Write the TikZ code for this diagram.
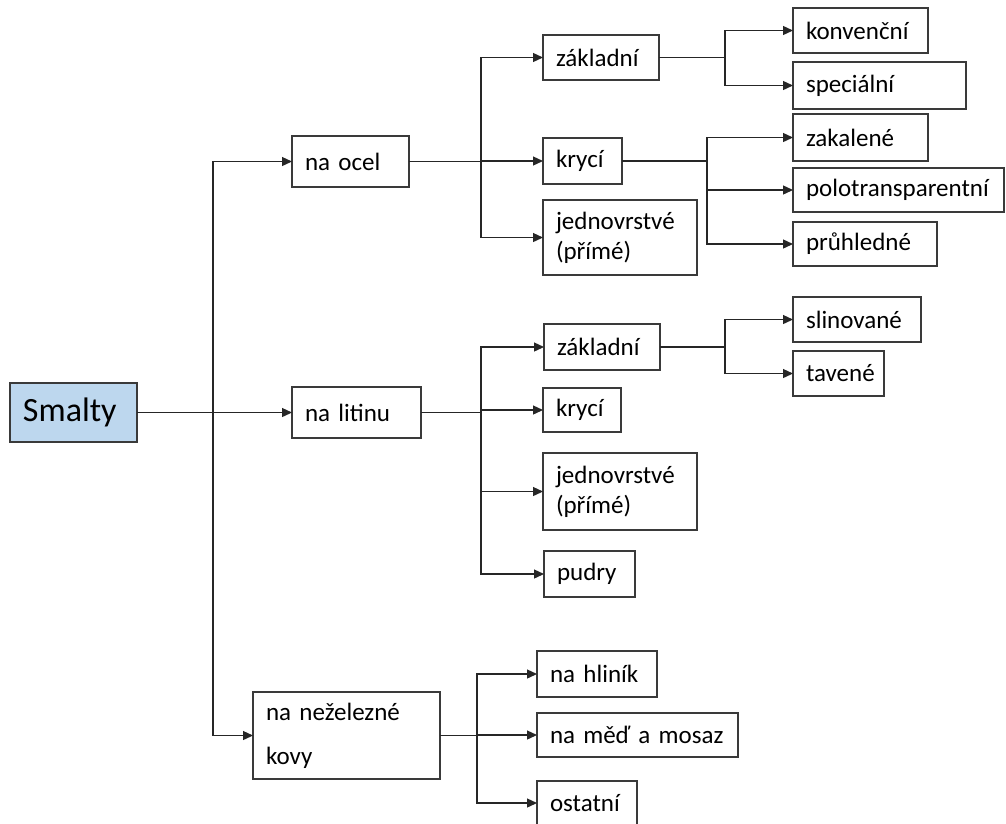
\documentclass[tikz,border=0pt]{standalone}
\usepackage{fontspec}
\setmainfont{Carlito}
\usetikzlibrary{arrows.meta}
\hyphenpenalty=10000
\exhyphenpenalty=10000
\definecolor{smaltyblue}{HTML}{BDD7EE}
\definecolor{boxedge}{HTML}{3A3A3A}
\definecolor{lineclr}{HTML}{262626}
\tikzset{
  box/.style={draw=boxedge, line width=1.3pt, inner xsep=13pt, inner ysep=0pt, outer sep=0pt,
    align=left, font=\fontsize{25}{30}\selectfont},
  conn/.style={line width=1.3pt, draw=lineclr, -{Triangle[length=10pt,width=9pt]}},
}
% #1 extra style, #2 name, #3 x1, #4 y1, #5 x2, #6 y2, #7 text
\newcommand{\mybox}[7]{%
  \pgfmathsetmacro\mbW{#5-#3}%
  \pgfmathsetmacro\mbH{#6-#4}%
  \pgfmathsetmacro\mbX{(#3+#5)/2}%
  \pgfmathsetmacro\mbY{(#4+#6)/2}%
  \pgfmathsetmacro\mbT{#5-#3-26}%
  \node[box,#1,minimum width=\mbW pt,minimum height=\mbH pt,text width=\mbT pt] (#2) at (\mbX,\mbY) {#7};%
}
\begin{document}
\begin{tikzpicture}[x=1pt,y=-1pt]
\useasboundingbox (0,0) rectangle (1006,823);
% level 0
\mybox{fill=smaltyblue,font=\fontsize{34}{40}\selectfont}{smalty}{10}{383}{137}{442}{Smalty}
% level 1
\mybox{}{naocel}{292}{136}{409}{187}{na~ocel}
\mybox{}{nalitinu}{292}{387}{421}{438}{na~litinu}
\mybox{}{nakovy}{253}{692}{440}{779}{na~neželezné\\[14pt]kovy}
% steel
\mybox{}{z1}{543}{35}{659}{80}{základní}
\mybox{}{k1}{543}{138}{622}{184}{krycí}
\mybox{}{j1}{543}{200}{697}{275}{jednovrstvé\\(přímé)}
\mybox{}{konv}{793}{8}{928}{53}{konvenční}
\mybox{}{spec}{793}{62}{966}{109}{speciální}
\mybox{}{zak}{793}{114}{928}{161}{zakalené}
\mybox{}{polo}{793}{168}{1004}{212}{polotransparentní}
\mybox{}{pruh}{793}{222}{937}{266}{průhledné}
% cast iron
\mybox{}{z2}{544}{324}{660}{370}{základní}
\mybox{}{k2}{543}{388}{621}{432}{krycí}
\mybox{}{j2}{543}{453}{697}{530}{jednovrstvé\\(přímé)}
\mybox{}{pudry}{544}{551}{635}{597}{pudry}
\mybox{}{slin}{793}{297}{921}{342}{slinované}
\mybox{}{tav}{793}{351}{884}{396}{tavené}
% non-ferrous
\mybox{}{hlinik}{537}{651}{657}{697}{na~hliník}
\mybox{}{med}{537}{713}{738}{757}{na~měď~a~mosaz}
\mybox{}{ost}{537}{781}{637}{825}{ostatní}
% branch x positions
\coordinate (t) at (213,0);
\coordinate (b1) at (481,0);
\coordinate (b2) at (481,0);
\coordinate (b3) at (477,0);
\coordinate (c1) at (725,0);
\coordinate (c2) at (707,0);
\coordinate (c3) at (725,0);
% trunk
\draw[conn] (smalty.east) -- (smalty.east -| t) |- (naocel.west);
\draw[conn] (smalty.east) -- (nalitinu.west);
\draw[conn] (smalty.east) -- (smalty.east -| t) |- (nakovy.west);
% na ocel
\draw[conn] (naocel.east) -- (naocel.east -| b1) |- (z1.west);
\draw[conn] (naocel.east) -- (naocel.east -| b1) |- (k1.west);
\draw[conn] (naocel.east) -- (naocel.east -| b1) |- (j1.west);
\draw[conn] (z1.east) -- (z1.east -| c1) |- (konv.west);
\draw[conn] (z1.east) -- (z1.east -| c1) |- (spec.west);
\draw[conn] (k1.east) -- (k1.east -| c2) |- (zak.west);
\draw[conn] (k1.east) -- (k1.east -| c2) |- (polo.west);
\draw[conn] (k1.east) -- (k1.east -| c2) |- (pruh.west);
% na litinu
\draw[conn] (nalitinu.east) -- (nalitinu.east -| b2) |- (z2.west);
\draw[conn] (nalitinu.east) -- (nalitinu.east -| b2) |- (k2.west);
\draw[conn] (nalitinu.east) -- (nalitinu.east -| b2) |- (j2.west);
\draw[conn] (nalitinu.east) -- (nalitinu.east -| b2) |- (pudry.west);
\draw[conn] (z2.east) -- (z2.east -| c3) |- (slin.west);
\draw[conn] (z2.east) -- (z2.east -| c3) |- (tav.west);
% na nezelezne kovy
\draw[conn] (nakovy.east) -- (nakovy.east -| b3) |- (hlinik.west);
\draw[conn] (nakovy.east) -- (nakovy.east -| b3) |- (med.west);
\draw[conn] (nakovy.east) -- (nakovy.east -| b3) |- (ost.west);
\end{tikzpicture}
\end{document}
